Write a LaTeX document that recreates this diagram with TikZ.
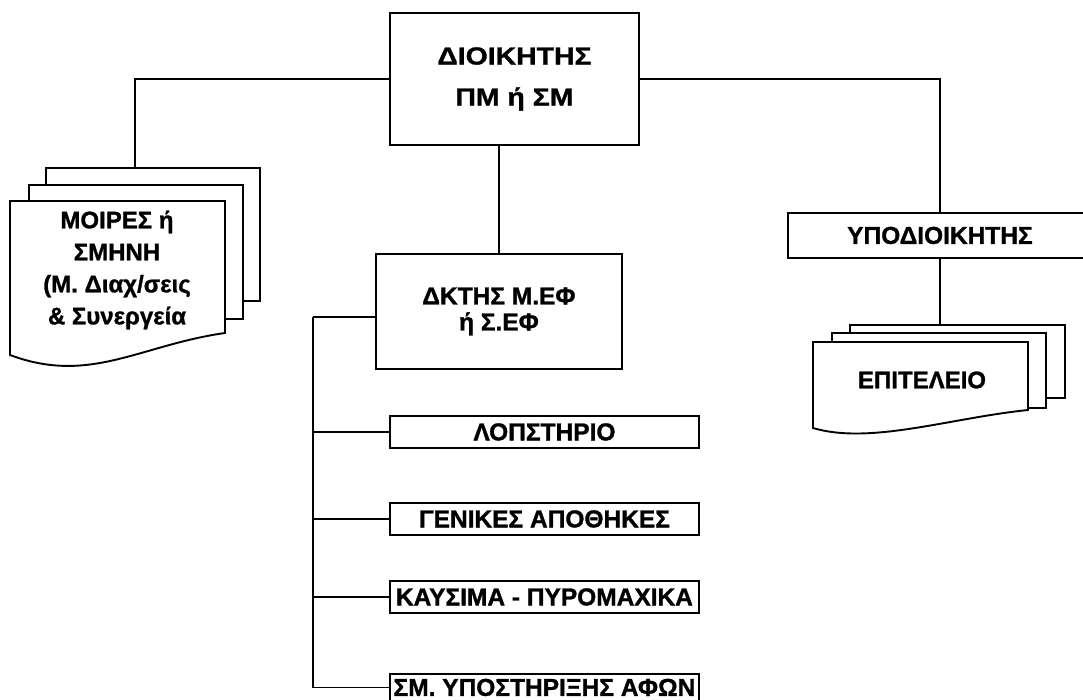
\documentclass[tikz,border=0pt]{standalone}
\usepackage{fontspec}
\setmainfont{Liberation Sans}[BoldFeatures={FakeBold=1.2}]
\newfontfamily\widefont{Liberation Sans}[FakeStretch=1.15, BoldFeatures={FakeBold=1.2}]
\begin{document}
\begin{tikzpicture}[x=1pt, y=-1pt, line width=1.9pt,
    box/.style={draw, fill=white, anchor=north west, align=center, inner sep=0pt,
        font=\bfseries\fontsize{24.5}{26}\selectfont},
    unit/.style={box, minimum width=309, minimum height=32},
    sheet/.style={draw, fill=white, anchor=north west, inner sep=0pt},
    doctext/.style={align=center, font=\bfseries\fontsize{24}{32}\selectfont}]
    \useasboundingbox (0,0) rectangle (1083,700);
    % top of the tree
    \node[box, minimum width=249, minimum height=132, font=\widefont\bfseries\fontsize{24.7}{41}\selectfont]
        (dir) at (389,12) {ΔΙΟΙΚΗΤΗΣ\\ΠΜ ή ΣΜ};
    \node[box, minimum width=246, minimum height=115] (dktis) at (375,253) {ΔΚΤΗΣ Μ.ΕΦ\\ή Σ.ΕΦ};
    \node[box, minimum width=304, minimum height=45] (ypo) at (787,212) {ΥΠΟΔΙΟΙΚΗΤΗΣ};
    % units under the ΔΚΤΗΣ
    \node[unit] (lop) at (389,415) {ΛΟΠΣΤΗΡΙΟ};
    \node[unit] (gen) at (389,502) {ΓΕΝΙΚΕΣ ΑΠΟΘΗΚΕΣ};
    \node[unit] (kay) at (389,580) {ΚΑΥΣΙΜΑ - ΠΥΡΟΜΑΧΙΚΑ};
    \node[unit, minimum height=27] (smy) at (389,673) {ΣΜ. ΥΠΟΣΤΗΡΙΞΗΣ ΑΦΩΝ};
    % stacked documents, left
    \node[sheet, minimum width=214, minimum height=133] (mback) at (45,167) {};
    \node[sheet, minimum width=214, minimum height=134] (mmid) at (28,184) {};
    \draw[fill=white] (10,201) -- (225,201) -- (225,333)
        .. controls (140,345) and (90,385) .. (10,355) -- cycle;
    \node[doctext] (moires) at (117,270) {ΜΟΙΡΕΣ ή\\ΣΜΗΝΗ\\(Μ. Διαχ/σεις\\\& Συνεργεία};
    % stacked documents, right
    \node[sheet, minimum width=215, minimum height=73] (eback) at (849,324) {};
    \node[sheet, minimum width=214, minimum height=75] (emid) at (831,332) {};
    \draw[fill=white] (813,342) -- (1028,342) -- (1028,410)
        .. controls (950,418) and (870,445) .. (813,428) -- cycle;
    \node[doctext] (epi) at (922,380) {ΕΠΙΤΕΛΕΙΟ};
    % connectors
    \coordinate (mtop) at (135,167);
    \coordinate (bus) at (313,317);
    \draw (dir.west) -| (mtop);
    \draw (dir.east) -| (ypo.north);
    \draw (dktis.north) -- (dktis.north |- dir.south);
    \draw (ypo.south) -- (ypo.south |- eback.north);
    \draw (dktis.west |- bus) -- (bus);
    \foreach \n in {lop,gen,kay,smy}
        \draw (bus) |- (\n.west);
\end{tikzpicture}
\end{document}
